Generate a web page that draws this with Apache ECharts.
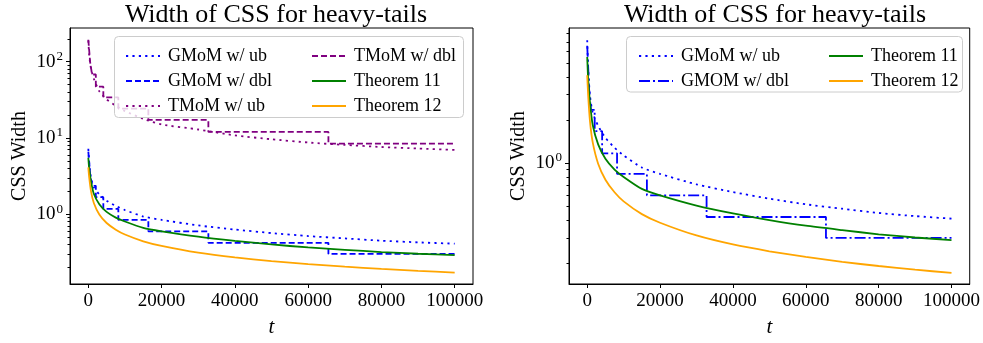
<!DOCTYPE html>
<html>
<head>
<meta charset="utf-8">
<script src="https://cdn.jsdelivr.net/npm/echarts@6/dist/echarts.min.js"></script>
<style>
  html, body { margin: 0; padding: 0; background: #fff; }
  #chart { width: 983px; height: 343px; }
</style>
</head>
<body>
<div id="chart"></div>
<script>
// t samples
const tGrid = [1, 250, 750, 1500, 3000, 5000, 7500, 10000, 15000, 20000, 30000, 40000, 50000, 60000, 70000, 80000, 90000, 100000];
const gmomUb = [7.2, 4.6, 2.97, 2.25, 1.82, 1.5, 1.28, 1.13, 0.93, 0.84, 0.71, 0.627, 0.564, 0.515, 0.48, 0.448, 0.426, 0.409];
const tmomUb = [190, 120, 80, 60, 41, 32, 26.5, 22.5, 17.8, 15.0, 12.9, 10.8, 9.6, 8.7, 8.1, 7.6, 7.25, 6.95];
const thm11 = [5.5, 3.9, 2.65, 1.85, 1.35, 1.07, 0.9, 0.8, 0.66, 0.595, 0.505, 0.445, 0.4, 0.365, 0.34, 0.318, 0.302, 0.29];
const thm12 = [4.1, 3.0, 1.97, 1.4, 0.99, 0.765, 0.625, 0.54, 0.44, 0.383, 0.312, 0.27, 0.242, 0.221, 0.204, 0.191, 0.18, 0.171];

// doubling-trick step levels
const tDbl = [1, 256, 512, 1024, 2048, 4096, 8192, 16384, 32768, 65536, 100000];
const gmomDbl = [6.6, 4.7, 3.3, 2.35, 1.67, 1.17, 0.84, 0.595, 0.42, 0.30, 0.30];
const tmomDbl = [194, 137, 97, 68, 47, 34, 24.3, 17.2, 12.0, 8.4, 8.4];

// ticks
const xTicks = [0, 20000, 40000, 60000, 80000, 100000];
const yMajorLeft = [1, 10, 100];
const yMinorLeft = [0.2, 0.3, 0.4, 0.5, 0.6, 0.7, 0.8, 0.9, 2, 3, 4, 5, 6, 7, 8, 9, 20, 30, 40, 50, 60, 70, 80, 90, 200];
const yMajorRight = [1];
const yMinorRight = [0.2, 0.3, 0.4, 0.5, 0.6, 0.7, 0.8, 0.9, 2, 3, 4, 5, 6, 7, 8];

const FONT = "'Liberation Serif', 'DejaVu Serif', serif";
const BLUE = '#0000ff', PURPLE = '#800080', GREEN = '#008000', ORANGE = '#ffa500';
const DOT = [2.2, 4.2], DASH = [6, 3], DASHDOT = [11, 3, 2, 3];

const pairs = (xs, ys) => xs.map((x, i) => [x, ys[i]]);

const chart = echarts.init(document.getElementById('chart'), null, { renderer: 'canvas' });

const xAxisFor = (gridIndex) => ({
  type: 'value', gridIndex, min: -5000, max: 105000,
  name: 't', nameLocation: 'middle', nameGap: 33,
  nameTextStyle: { fontFamily: FONT, fontSize: 21, fontStyle: 'italic', color: '#000' },
  axisLine: { show: true, onZero: false, lineStyle: { color: '#000', width: 1 } },
  axisTick: { show: true, inside: false, length: 4, customValues: xTicks, lineStyle: { color: '#000' } },
  axisLabel: { customValues: xTicks, margin: 8, fontFamily: FONT, fontSize: 19, color: '#000',
    formatter: (v) => String(v) },
  splitLine: { show: false }
});

const yMajor = (gridIndex, min, max, ticks) => ({
  type: 'log', logBase: 10, gridIndex, min, max, position: 'left',
  name: 'CSS Width', nameLocation: 'middle', nameGap: 40,
  nameTextStyle: { fontFamily: FONT, fontSize: 20, color: '#000' },
  axisLine: { show: true, onZero: false, lineStyle: { color: '#000', width: 1 } },
  axisTick: { show: true, length: 4, customValues: ticks, lineStyle: { color: '#000' } },
  axisLabel: {
    customValues: ticks, margin: 7,
    formatter: (v) => '{b|10}{e|' + Math.round(Math.log10(v)) + '}',
    rich: {
      b: { fontFamily: FONT, fontSize: 19, color: '#000' },
      e: { fontFamily: FONT, fontSize: 13, color: '#000', padding: [0, 0, 10, 1] }
    }
  },
  splitLine: { show: false }
});

const yMinor = (gridIndex, min, max, ticks) => ({
  type: 'log', logBase: 10, gridIndex, min, max, position: 'left', offset: 0,
  axisLine: { show: false, onZero: false },
  axisTick: { show: true, length: 2.5, customValues: ticks, lineStyle: { color: '#000' } },
  axisLabel: { show: false },
  splitLine: { show: false }
});

const lineSeries = (name, xi, yi, data, color, type, extra) => Object.assign({
  name, type: 'line', xAxisIndex: xi, yAxisIndex: yi, data,
  symbol: 'none', smooth: 0.2,
  lineStyle: { color, width: 1.8, type },
  itemStyle: { color },
  emphasis: { disabled: true }
}, extra || {});

const legendBase = (data, left) => ({
  data, left, top: 42, orient: 'vertical',
  itemWidth: 34, itemHeight: 14, itemGap: 7, z: 20,
  itemStyle: { opacity: 0 },
  textStyle: { fontFamily: FONT, fontSize: 18, color: '#000', lineHeight: 18, padding: [0, 0, 0, 3] }
});

const option = {
  backgroundColor: '#fff',
  animation: false,
  title: [
    { text: 'Width of CSS for heavy-tails', left: 271, top: -3, textAlign: 'center',
      textStyle: { fontFamily: FONT, fontSize: 26, fontWeight: 'normal', color: '#000' } },
    { text: 'Width of CSS for heavy-tails', left: 770, top: -3, textAlign: 'center',
      textStyle: { fontFamily: FONT, fontSize: 26, fontWeight: 'normal', color: '#000' } }
  ],
  grid: [
    { left: 70, right: 510, top: 28, bottom: 54, show: true, borderColor: '#000', borderWidth: 1, backgroundColor: 'transparent' },
    { left: 569, right: 12, top: 28, bottom: 54, show: true, borderColor: '#000', borderWidth: 1, backgroundColor: 'transparent' }
  ],
  xAxis: [xAxisFor(0), xAxisFor(1)],
  yAxis: [
    yMajor(0, 0.121, 277, yMajorLeft),
    yMinor(0, 0.121, 277, yMinorLeft),
    yMajor(1, 0.143, 8.77, yMajorRight),
    yMinor(1, 0.143, 8.77, yMinorRight)
  ],
  legend: [
    legendBase(['GMoM w/ ub', 'GMoM w/ dbl', 'TMoM w/ ub'], 120),
    legendBase(['TMoM w/ dbl', 'Theorem 11', 'Theorem 12'], 306),
    legendBase(['GMoM w/ ub', 'GMOM w/ dbl'], 633),
    legendBase(['Theorem 11', 'Theorem 12'], 823)
  ],
  graphic: [
    { type: 'rect', z: 10, shape: { x: 114.5, y: 36.5, width: 349, height: 81, r: 4 },
      style: { fill: 'rgba(255,255,255,0.8)', stroke: '#cccccc', lineWidth: 1 } },
    { type: 'rect', z: 10, shape: { x: 626.5, y: 36.5, width: 336, height: 55.5, r: 4 },
      style: { fill: 'rgba(255,255,255,0.8)', stroke: '#cccccc', lineWidth: 1 } }
  ],
  series: [
    lineSeries('GMoM w/ ub', 0, 0, pairs(tGrid, gmomUb), BLUE, DOT),
    lineSeries('GMoM w/ dbl', 0, 0, pairs(tDbl, gmomDbl), BLUE, DASH, { step: 'end', smooth: false }),
    lineSeries('TMoM w/ ub', 0, 0, pairs(tGrid, tmomUb), PURPLE, DOT),
    lineSeries('TMoM w/ dbl', 0, 0, pairs(tDbl, tmomDbl), PURPLE, DASH, { step: 'end', smooth: false }),
    lineSeries('Theorem 11', 0, 0, pairs(tGrid, thm11), GREEN, 'solid'),
    lineSeries('Theorem 12', 0, 0, pairs(tGrid, thm12), ORANGE, 'solid'),

    lineSeries('GMoM w/ ub', 1, 2, pairs(tGrid, gmomUb), BLUE, DOT),
    lineSeries('GMOM w/ dbl', 1, 2, pairs(tDbl, gmomDbl), BLUE, DASHDOT, { step: 'end', smooth: false }),
    lineSeries('Theorem 11', 1, 2, pairs(tGrid, thm11), GREEN, 'solid'),
    lineSeries('Theorem 12', 1, 2, pairs(tGrid, thm12), ORANGE, 'solid')
  ]
};

chart.setOption(option);
window.addEventListener('resize', () => chart.resize());
</script>
</body>
</html>
